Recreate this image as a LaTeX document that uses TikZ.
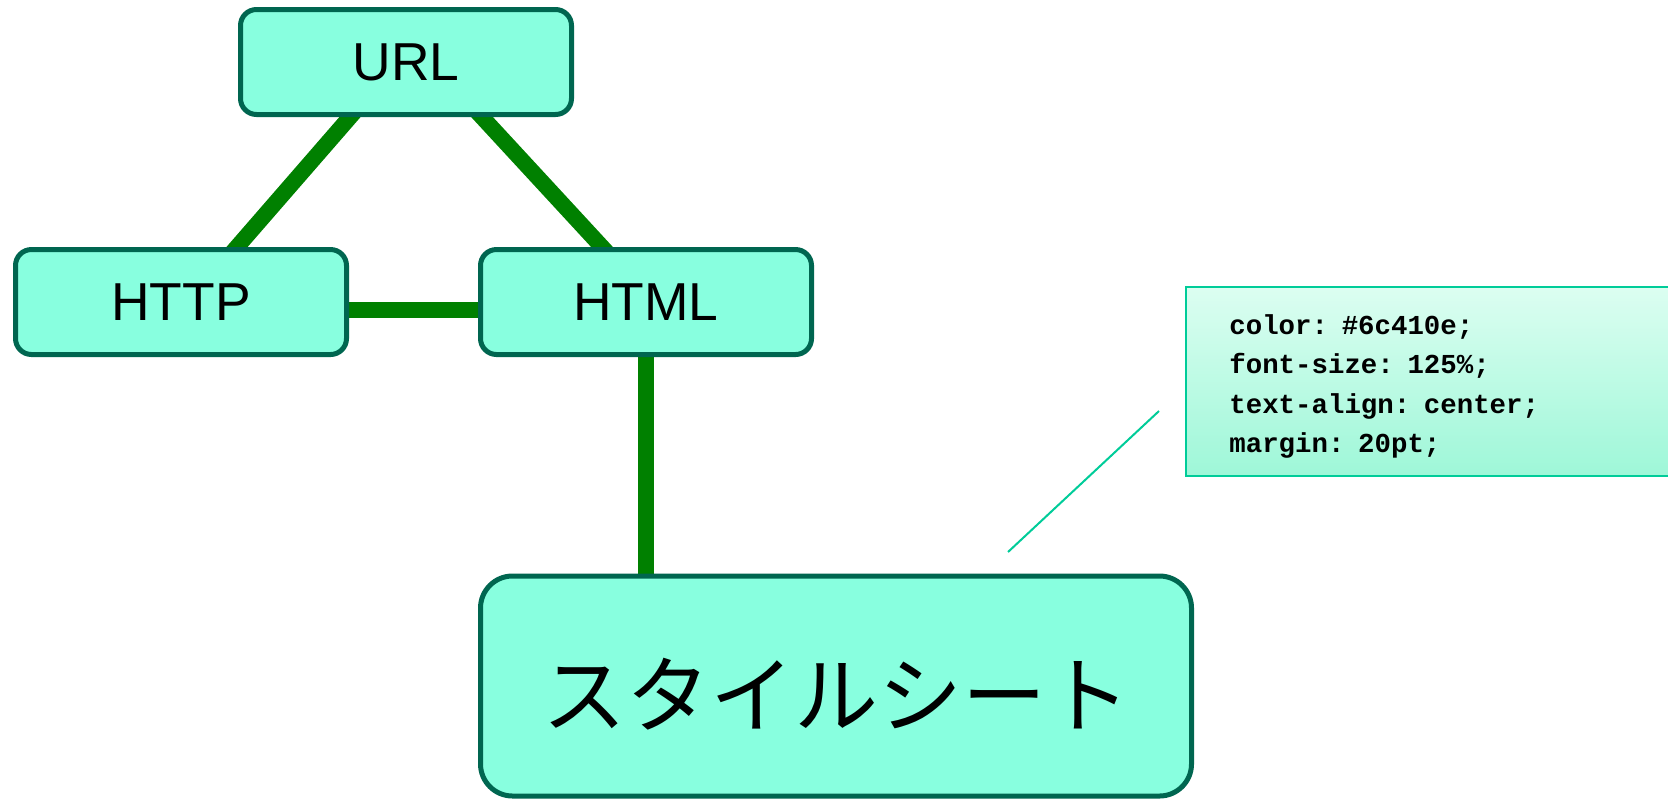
\documentclass[tikz,border=0pt]{standalone}
\usepackage{fontspec}
\setmainfont{Liberation Sans}
\setmonofont{Liberation Mono}
\newfontfamily\jpfont{Noto Sans CJK JP}
\usetikzlibrary{calc}
\usetikzlibrary{positioning}
\usetikzlibrary{backgrounds}
\usetikzlibrary{shadings}
\definecolor{boxfill}{HTML}{88FFDF}
\definecolor{boxline}{HTML}{006650}
\definecolor{linkgreen}{HTML}{008000}
\definecolor{calloutline}{HTML}{00CC99}
\definecolor{codetop}{HTML}{DCFEF1}
\definecolor{codebottom}{HTML}{9EF7D8}

\begin{document}
\begin{tikzpicture}
		[x=0.5pt, y=-0.5pt,
		term/.style = {draw=boxline, fill=boxfill, line width=2.5pt, rounded corners=8pt,
			minimum width=165.5pt, minimum height=52.5pt, font=\fontsize{26.7}{30}\selectfont},
		sheet/.style = {term, rounded corners=16pt, minimum width=355.5pt, minimum height=110pt,
			text height=40pt, text depth=0pt, font=\jpfont\fontsize{42}{46}\selectfont},
		link/.style = {draw=linkgreen, line width=8pt, shorten <=-4pt, shorten >=-4pt},
		codebox/.style = {draw=calloutline, line width=1pt, top color=codetop, bottom color=codebottom,
			minimum width=300pt, minimum height=94.5pt},
		codetext/.style = {inner sep=0pt, text width=250pt, align=left,
			font=\ttfamily\bfseries\fontsize{13.7}{19.8}\selectfont},
		callout/.style = {draw=calloutline, line width=1pt}
		]
		\useasboundingbox (0,0) rectangle (1668,800);

		\node[term] (url)  at (406,62)  {URL};
		\node[term] (http) at (181,302) {HTTP};
		\node[term] (html) at (646,302) {HTML};
		\node[sheet] (stylesheet) at (836,686) {スタイルシート};

		\begin{scope}[on background layer]
			\draw[link] ($(url.south)+(-56,0)$) -- ($(http.north)+(56,0)$);
			\draw[link] ($(url.south)+(76,0)$) -- ($(html.north)+(-44,0)$);
			\draw[link] ($(http.east)+(0,7.5)$) -- ($(html.west)+(0,7.5)$);
			\draw[link] (html.south) -- (html.south |- stylesheet.north);
		\end{scope}

		\node[codebox, anchor=north west] (css) at (1185,286) {};
		\node[codetext, anchor=base west] (css text) at ($(css.north west)+(44,48)$)
			{color: \#6c410e;\\font-size: 125\%;\\text-align: center;\\margin: 20pt;};
		\coordinate (callout tip) at (1008,552);
		\coordinate (callout end) at (1159,411);
		\draw[callout] (callout tip) -- (callout end);
	\end{tikzpicture}
\end{document}
